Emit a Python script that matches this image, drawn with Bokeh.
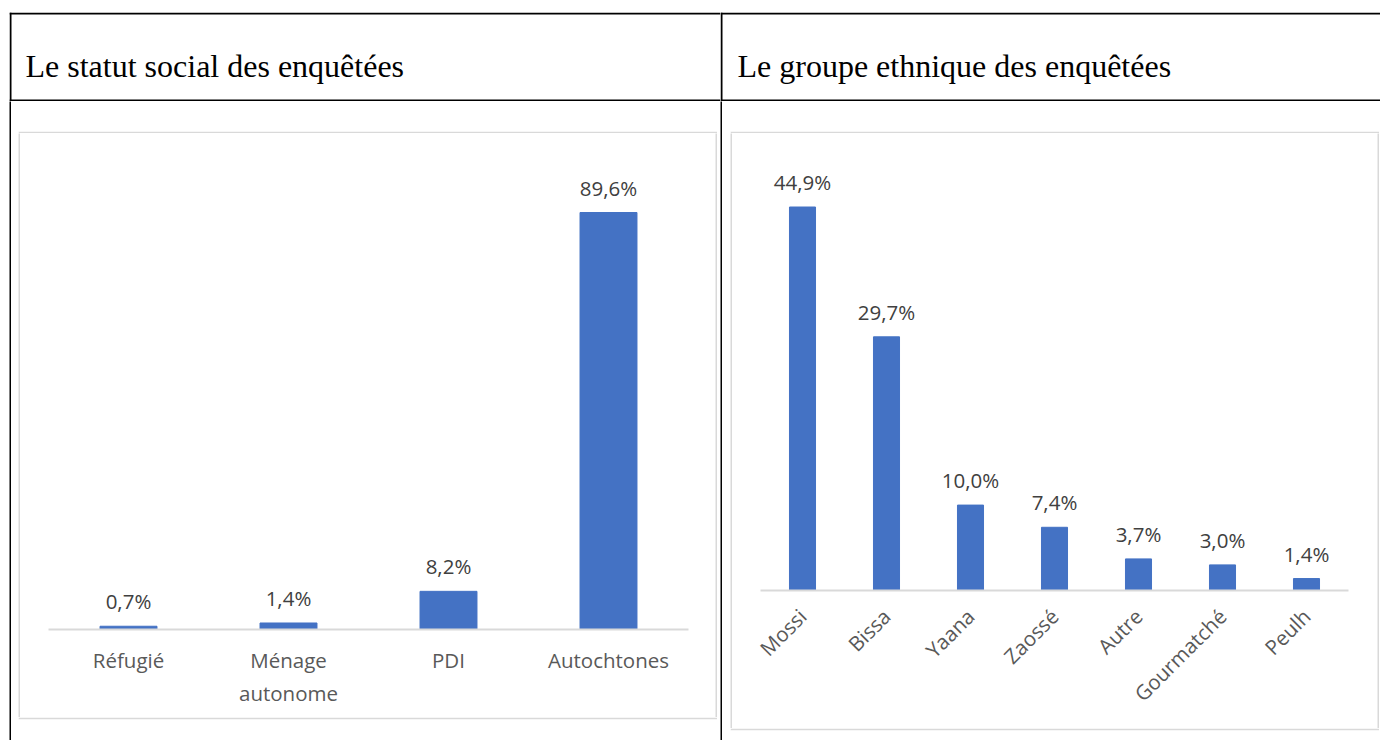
import math
from bokeh.plotting import figure
from bokeh.models import Range1d, Span, Label, ColumnDataSource
from bokeh.layouts import row, column
from bokeh.embed import file_html
from bokeh.resources import INLINE
from bokeh.core.properties import value

# ---- data ----
title_left = "Le statut social des enquêtées"
title_right = "Le groupe ethnique des enquêtées"

statut_categories = ["Réfugié", "Ménage\nautonome", "PDI", "Autochtones"]
statut_values = [0.7, 1.4, 8.2, 89.6]

ethnie_categories = ["Mossi", "Bissa", "Yaana", "Zaossé", "Autre", "Gourmatché", "Peulh"]
ethnie_values = [44.9, 29.7, 10.0, 7.4, 3.7, 3.0, 1.4]

# ---- style ----
BAR_COLOR = "#4472C4"
GRID_GREY = "#d9d9d9"
VALUE_COLOR = "#404040"
TICK_COLOR = "#595959"
SANS = "Open Sans"
SERIF = "Liberation Serif"

LEFT_W = 720
RIGHT_W = 660
TOP_GAP = 12
HEADER_H = 89
BODY_H = 639


def block(w, h, color):
    """Plain coloured rectangle used for table rules and the chart-area frame."""
    b = figure(width=w, height=h, title=None, toolbar_location=None, output_backend="svg",
               min_border=0, x_axis_location=None, y_axis_location=None,
               outline_line_color=None, background_fill_color=color,
               border_fill_color=color, frame_align=False)
    b.grid.visible = False
    return b


def rule_block(w, h, rule_top, rule_bottom):
    """White rectangle with a 2px light grey rule on its top and/or bottom edge."""
    b = figure(width=w, height=h, title=None, toolbar_location=None, output_backend="svg",
               min_border_left=0, min_border_right=0,
               min_border_top=2 if rule_top else 0, min_border_bottom=2 if rule_bottom else 0,
               x_axis_location=None, y_axis_location=None, outline_line_color=None,
               background_fill_color="white", border_fill_color=GRID_GREY, frame_align=False)
    b.grid.visible = False
    return b


def header(w, title, title_x, border_x):
    p = figure(width=w, height=HEADER_H, x_range=Range1d(0, w), y_range=Range1d(HEADER_H, 0),
               title=None, toolbar_location=None, output_backend="svg", min_border=0,
               frame_align=False, x_axis_location=None, y_axis_location=None,
               outline_line_color=None)
    p.grid.visible = False
    p.add_layout(Span(location=1, dimension="width", line_color="black", line_width=2))
    p.add_layout(Span(location=88, dimension="width", line_color="black", line_width=2))
    p.add_layout(Span(location=border_x, dimension="height", line_color="black", line_width=2))
    p.add_layout(Label(x=title_x, y=53, text=title, text_font=SERIF, text_font_size="32px",
                       text_baseline="middle", text_align="left", text_color="black"))
    return p


def chart(w, h, cats, vals, frame_w, frame_h, px_per_unit, bar_w, rotate, standoff):
    src = ColumnDataSource(dict(cat=cats, val=vals,
                                lab=[f"{v:.1f}%".replace(".", ",") for v in vals]))
    p = figure(width=w, height=h, x_range=cats, y_range=Range1d(0, frame_h / px_per_unit),
               title=None, toolbar_location=None, output_backend="svg", frame_align=False,
               min_border_left=28, min_border_right=w - 28 - frame_w,
               min_border_top=9, min_border_bottom=h - 9 - frame_h,
               y_axis_location=None, outline_line_color=None)
    p.grid.visible = False
    p.vbar(x="cat", top="val", width=bar_w, source=src, color=BAR_COLOR)
    p.text(x="cat", y="val", text="lab", source=src, text_align="center", text_baseline="middle",
           y_offset=-25, text_font=value(SANS), text_font_size="20.5px", text_color=VALUE_COLOR)
    ax = p.xaxis[0]
    ax.axis_line_color = GRID_GREY
    ax.axis_line_width = 2
    ax.major_tick_line_color = None
    ax.minor_tick_line_color = None
    ax.major_label_text_font = SANS
    ax.major_label_text_font_size = "20.5px"
    ax.major_label_text_color = TICK_COLOR
    ax.major_label_standoff = standoff
    if rotate:
        ax.major_label_orientation = math.pi / 4
    return p


def framed(c, w, h, top_gap, bottom_gap):
    """Chart surrounded by a 2px light grey frame, with white space above and below."""
    return column(
        rule_block(w, top_gap + 2, False, True),
        row(block(2, h, GRID_GREY), c, block(2, h, GRID_GREY), spacing=0),
        rule_block(w, bottom_gap + 2, True, False),
        spacing=0,
    )


# header row
h_left = header(LEFT_W - 9, title_left, 16, 1)
h_right = header(RIGHT_W, title_right, 17, 1)

# left body cell
c_left = chart(695, 584, statut_categories, statut_values, frame_w=640, frame_h=487,
               px_per_unit=417 / 89.6, bar_w=0.356, rotate=False, standoff=10)
body_left = row(
    block(9, BODY_H, "white"),
    block(2, BODY_H, "black"),
    block(7, BODY_H, "white"),
    framed(c_left, 699, 584, 30, BODY_H - 30 - 2 - 584 - 2),
    block(3, BODY_H, "white"),
    spacing=0,
)

# right body cell
c_right = chart(645, 595, ethnie_categories, ethnie_values, frame_w=588, frame_h=448,
                px_per_unit=383.5 / 44.9, bar_w=0.31, rotate=True, standoff=16)
body_right = row(
    block(2, BODY_H, "black"),
    block(8, BODY_H, "white"),
    framed(c_right, 649, 595, 30, BODY_H - 30 - 2 - 595 - 2),
    block(1, BODY_H, "white"),
    spacing=0,
)

layout = column(
    block(LEFT_W + RIGHT_W, TOP_GAP, "white"),
    row(block(9, HEADER_H, "white"), h_left, h_right, spacing=0),
    row(body_left, body_right, spacing=0),
    spacing=0,
)

open("out.html", "w").write(file_html(layout, INLINE))
